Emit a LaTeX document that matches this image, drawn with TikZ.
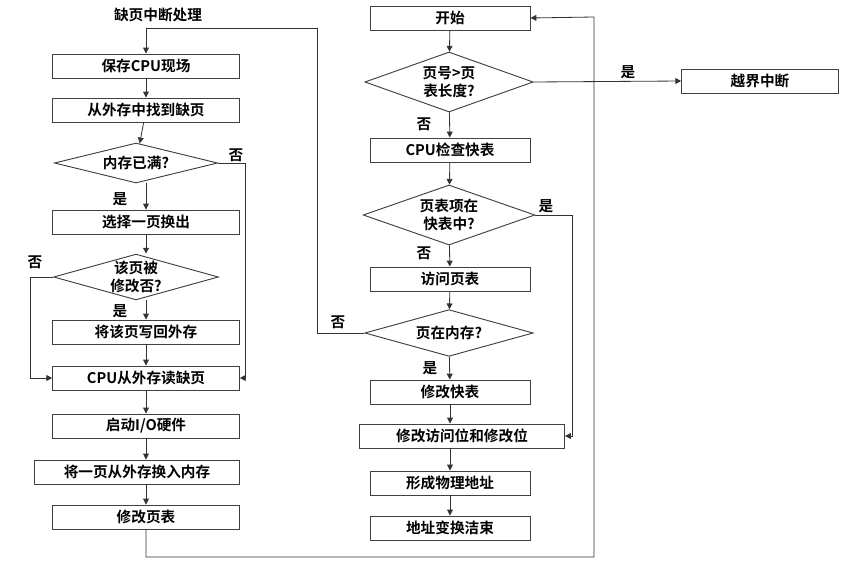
\documentclass[tikz,border=0pt]{standalone}
\usepackage{fontspec}
\setmainfont{Noto Sans CJK SC}[BoldFont={Noto Sans CJK SC Bold}]
\usetikzlibrary{shapes.geometric,arrows.meta}
\begin{document}
\begin{tikzpicture}[x=0.03cm,y=-0.03cm,
  box/.style={draw=black!75,line width=0.8pt,minimum height=0.72cm,inner sep=0pt,font=\bfseries\fontsize{12.5}{13}\selectfont},
  dia/.style={diamond,aspect=3.6,draw=black!75,line width=0.8pt,inner sep=0pt,align=center,font=\bfseries\fontsize{12.5}{15}\selectfont},
  lbl/.style={font=\bfseries\fontsize{12.5}{13}\selectfont,inner sep=1pt},
  ar/.style={-{Triangle[length=5pt,width=5pt]},line width=0.7pt,black!80},
  ln/.style={line width=0.7pt,black!80}]
\useasboundingbox (0,0) rectangle (852,569);
% left column
\node[lbl] (t) at (158,15) {缺页中断处理};
\node[box,minimum width=5.6cm] (l1) at (146,66) {保存CPU现场};
\node[box,minimum width=5.6cm] (l2) at (146,110) {从外存中找到缺页};
\node[dia,minimum width=4.9cm,minimum height=1.2cm] (d1) at (136,163) {内存已满?};
\node[box,minimum width=5.6cm] (l3) at (146,222) {选择一页换出};
\node[dia,minimum width=4.9cm,minimum height=1.2cm] (d2) at (136,277) {该页被\\修改否?};
\node[box,minimum width=5.6cm] (l4) at (146,332) {将该页写回外存};
\node[box,minimum width=5.6cm] (l5) at (146,378) {CPU从外存读缺页};
\node[box,minimum width=5.6cm] (l6) at (146,426) {启动I/O硬件};
\node[box,minimum width=6.15cm] (l7) at (137,472) {将一页从外存换入内存};
\node[box,minimum width=5.6cm] (l8) at (146,517) {修改页表};
% right column
\node[box,minimum width=4.8cm] (r0) at (450,18) {开始};
\node[dia,minimum width=5.05cm,minimum height=1.8cm] (e1) at (449,82) {页号>页\\表长度?};
\node[box,minimum width=4.7cm] (ex) at (760,81) {越界中断};
\node[box,minimum width=4.8cm] (r1) at (450,150) {CPU检查快表};
\node[dia,minimum width=5.05cm,minimum height=1.8cm] (e2) at (449,215) {页表项在\\快表中?};
\node[box,minimum width=4.8cm] (r2) at (450,279) {访问页表};
\node[dia,minimum width=5.05cm,minimum height=1.4cm] (e3) at (449,333) {页在内存?};
\node[box,minimum width=4.8cm] (r3) at (450,392) {修改快表};
\node[box,minimum width=6.15cm] (r4) at (462,436) {修改访问位和修改位};
\node[box,minimum width=4.8cm] (r5) at (450,483) {形成物理地址};
\node[box,minimum width=4.8cm] (r6) at (450,528) {地址变换洁束};
% coordinates
\coordinate (c1) at (317,333); \coordinate (c2) at (317,28); \coordinate (c3) at (146,28);
\coordinate (b1) at (146,557); \coordinate (b2) at (594,557); \coordinate (b3) at (594,17);
\coordinate (y1) at (245,163); \coordinate (y2) at (245,378);
\coordinate (z1) at (30,277); \coordinate (z2) at (30,378);
\coordinate (q1) at (572,215); \coordinate (q2) at (572,436);
% left arrows
\draw[ar] (l1) -- (l2);
\draw[ar] (l2) -- (d1);
\draw[ar] (d1.south -| l3) -- (l3);
\draw[ar] (l3) -- (d2.north -| l3);
\draw[ar] (d2.south -| l4) -- (l4);
\draw[ar] (l4) -- (l5);
\draw[ar] (l5) -- (l6);
\draw[ar] (l6) -- (l6 |- l7.north);
\draw[ar] (l7.south -| l8) -- (l8);
\draw[ar] (d1.east) -- (y1) -- (y2) -- (l5.east);
\draw[ar] (d2.west) -- (z1) -- (z2) -- (l5.west);
\node[lbl] at (236,155) {否};
\node[lbl] at (120,199) {是};
\node[lbl] at (35,262) {否};
\node[lbl] at (120,311) {是};
% right arrows
\draw[ar] (r0) -- (e1);
\draw[ar] (e1) -- (r1);
\draw[ar] (r1) -- (e2);
\draw[ar] (e2) -- (r2);
\draw[ar] (r2) -- (e3);
\draw[ar] (e3) -- (r3);
\draw[ar] (r3) -- (r3 |- r4.north);
\draw[ar] (r4.south -| r5) -- (r5);
\draw[ar] (r5) -- (r6);
\draw[ar] (e1.east) -- (ex.west);
\draw[ar] (e2.east) -- (q1) -- (q2) -- (r4.east);
\draw[ar] (e3.west) -- (c1) -- (c2) -- (c3) -- (l1.north);
\draw[ar] (l8.south) -- (b1) -- (b2) -- (b3) -- (r0.east);
\node[lbl] at (628,72) {是};
\node[lbl] at (424,124) {否};
\node[lbl] at (546,206) {是};
\node[lbl] at (424,253) {否};
\node[lbl] at (338,322) {否};
\node[lbl] at (430,368) {是};
\end{tikzpicture}
\end{document}
